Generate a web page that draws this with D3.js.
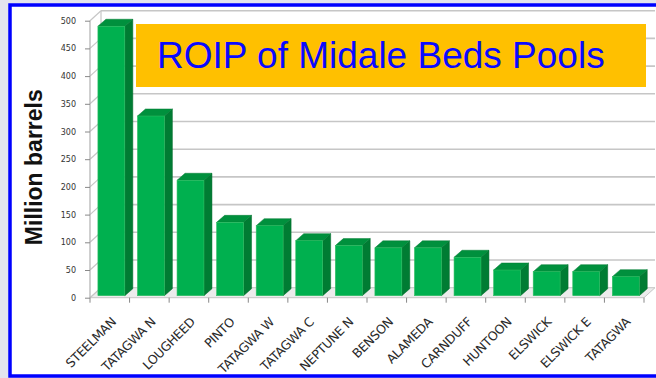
<!DOCTYPE html>
<html>
<head>
<meta charset="utf-8">
<script src="https://cdn.jsdelivr.net/npm/d3@7"></script>
<style>
  html, body { margin: 0; padding: 0; background: #e3e4ee; }
  svg { display: block; }
</style>
</head>
<body>
<svg id="chart" width="656" height="378"></svg>
<script>
// Original oil in place per Midale Beds pool (million barrels)
const pools = ["STEELMAN", "TATAGWA N", "LOUGHEED", "PINTO", "TATAGWA W", "TATAGWA C",
  "NEPTUNE N", "BENSON", "ALAMEDA", "CARNDUFF", "HUNTOON", "ELSWICK", "ELSWICK E", "TATAGWA"];
const roip = [490, 328, 212, 136, 130, 103, 94, 90, 90, 73, 50, 47, 47, 38];
const yTicks = [0, 50, 100, 150, 200, 250, 300, 350, 400, 450, 500];
const titleText = "ROIP of Midale Beds Pools";
const yTitle = "Million barrels";

const svg = d3.select("#chart");
const W = 656, H = 378;

// backdrop and blue frame
svg.append("rect").attr("x", 0).attr("y", 0).attr("width", W).attr("height", H).attr("fill", "#e3e4ee");
svg.append("rect").attr("x", 10).attr("y", 5).attr("width", 700).attr("height", 371)
  .attr("fill", "#ffffff").attr("stroke", "#0000ff").attr("stroke-width", 3.5);

const x = d3.scaleBand().domain(pools).range([90, 644]).paddingInner(0).paddingOuter(0);
const y = d3.scaleLinear().domain([0, 500]).range([297.7, 20.7]);

// wall depth offsets (oblique projection)
const wdx = 11, wdy = -10;
const gridColor = "#c6c6c6";

// floor
const x0 = x.range()[0], x1 = x.range()[1];
svg.append("polygon")
  .attr("points", [[x0, y(0)], [x1, y(0)], [x1 + wdx, y(0) + wdy], [x0 + wdx, y(0) + wdy]].map(p => p.join(",")).join(" "))
  .attr("fill", "#ececec").attr("stroke", gridColor).attr("stroke-width", 1);

// back-wall gridlines
svg.append("g").selectAll("line").data(yTicks.filter(d => d > 0)).join("line")
  .attr("x1", x0 + wdx).attr("x2", x1 + wdx)
  .attr("y1", d => y(d) + wdy).attr("y2", d => y(d) + wdy)
  .attr("stroke", gridColor).attr("stroke-width", 1.6);

// side-wall diagonals
svg.append("g").selectAll("line").data(yTicks).join("line")
  .attr("x1", x0).attr("x2", x0 + wdx)
  .attr("y1", d => y(d)).attr("y2", d => y(d) + wdy)
  .attr("stroke", gridColor).attr("stroke-width", 1.2);

// back-wall left edge
svg.append("line").attr("x1", x0 + wdx).attr("x2", x0 + wdx)
  .attr("y1", y(0) + wdy).attr("y2", y(500) + wdy)
  .attr("stroke", gridColor).attr("stroke-width", 1.2);

// y axis line, ticks and labels
svg.append("line").attr("x1", x0).attr("x2", x0).attr("y1", y(0)).attr("y2", y(500))
  .attr("stroke", "#b0b0b0").attr("stroke-width", 1.2);
const yAxis = d3.axisLeft(y).tickValues(yTicks).tickSize(5).tickPadding(9).tickFormat(d3.format("d"));
const gy = svg.append("g").attr("transform", `translate(${x0},0)`).call(yAxis);
gy.select(".domain").remove();
gy.selectAll(".tick line").attr("stroke", "#888").attr("stroke-width", 1);
gy.selectAll(".tick text").attr("fill", "#333").attr("font-family", "DejaVu Sans, sans-serif").attr("font-size", 8);

// x axis category boundary ticks
const bounds = d3.range(pools.length + 1).map(i => x0 + i * x.step());
svg.append("g").selectAll("line").data(bounds).join("line")
  .attr("x1", d => d).attr("x2", d => d).attr("y1", y(0)).attr("y2", y(0) + 5)
  .attr("stroke", "#888").attr("stroke-width", 1);

// 3D bars
const bdx = 8, bdy = -7;
const barOff = x.bandwidth() * 0.2, barW = x.bandwidth() * 0.68;
const data = pools.map((p, i) => ({ pool: p, value: roip[i] }));
const bars = svg.append("g").selectAll("g").data(data).join("g");
const base = y(0) - 2;
bars.append("polygon") // side face
  .attr("points", d => {
    const a = x(d.pool) + barOff + barW, t = y(d.value);
    return [[a, t], [a + bdx, t + bdy], [a + bdx, base + bdy], [a, base]].map(p => p.join(",")).join(" ");
  })
  .attr("fill", "#007c33").attr("stroke", "#006a2b").attr("stroke-width", 0.5);
bars.append("polygon") // top face
  .attr("points", d => {
    const a = x(d.pool) + barOff, t = y(d.value);
    return [[a, t], [a + bdx, t + bdy], [a + barW + bdx, t + bdy], [a + barW, t]].map(p => p.join(",")).join(" ");
  })
  .attr("fill", "#00903d").attr("stroke", "#007a33").attr("stroke-width", 0.5);
bars.append("rect") // front face
  .attr("x", d => x(d.pool) + barOff).attr("width", barW)
  .attr("y", d => y(d.value)).attr("height", d => base - y(d.value))
  .attr("fill", "#00b04f").attr("stroke", "#2fbf63").attr("stroke-width", 0.6);

// category labels
svg.append("g").selectAll("text").data(pools).join("text")
  .attr("transform", d => `translate(${x(d) + x.bandwidth() / 2 + 7},${y(0) + 25}) rotate(-45)`)
  .attr("text-anchor", "end")
  .attr("fill", "#2a2a2a").attr("font-family", "DejaVu Sans, sans-serif").attr("font-size", 12.5)
  .attr("letter-spacing", -0.3)
  .text(d => d);

// y title
svg.append("text")
  .attr("transform", `translate(42,${(y(0) + y(500)) / 2 + 8}) rotate(-90)`)
  .attr("text-anchor", "middle")
  .attr("font-family", "Liberation Sans, Arial, sans-serif").attr("font-weight", "bold")
  .attr("font-size", 23).attr("fill", "#111")
  .text(yTitle);

// title box
svg.append("rect").attr("x", 136).attr("y", 24).attr("width", 510).attr("height", 63).attr("fill", "#ffc000");
svg.append("text").attr("x", 157).attr("y", 68)
  .attr("font-family", "Liberation Sans, Arial, sans-serif").attr("font-size", 37)
  .attr("fill", "#0a0aff").text(titleText);
</script>
</body>
</html>
